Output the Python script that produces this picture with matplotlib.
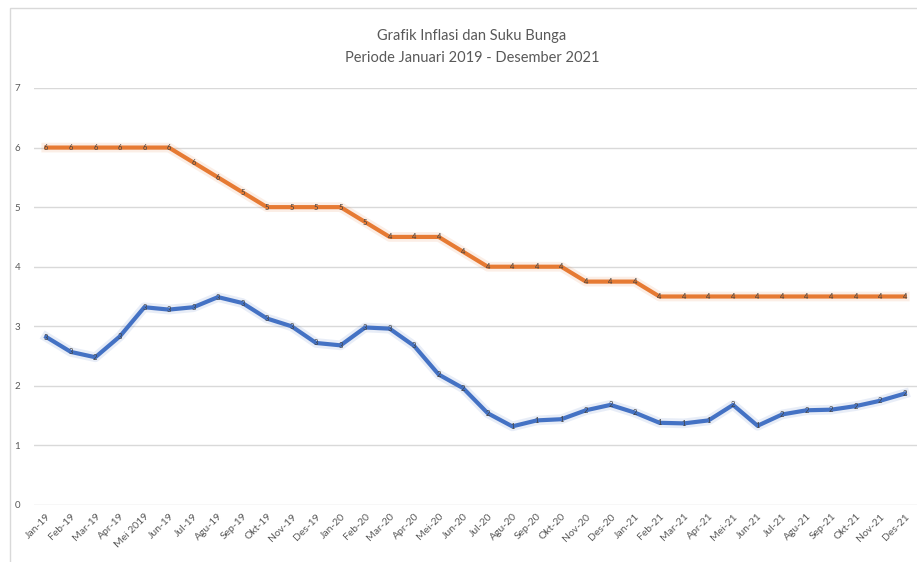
import matplotlib

matplotlib.use("Agg")
import matplotlib.pyplot as plt
from matplotlib.patches import Rectangle

bulan = [
    "Jan-19", "Feb-19", "Mar-19", "Apr-19", "Mei 2019", "Jun-19", "Jul-19", "Agu-19",
    "Sep-19", "Okt-19", "Nov-19", "Des-19", "Jan-20", "Feb-20", "Mar-20", "Apr-20",
    "Mei-20", "Jun-20", "Jul-20", "Agu-20", "Sep-20", "Okt-20", "Nov-20", "Des-20",
    "Jan-21", "Feb-21", "Mar-21", "Apr-21", "Mei-21", "Jun-21", "Jul-21", "Agu-21",
    "Sep-21", "Okt-21", "Nov-21", "Des-21",
]
inflasi = [
    2.82, 2.57, 2.48, 2.83, 3.32, 3.28, 3.32, 3.49, 3.39, 3.13, 3.00, 2.72,
    2.68, 2.98, 2.96, 2.67, 2.19, 1.96, 1.54, 1.32, 1.42, 1.44, 1.59, 1.68,
    1.55, 1.38, 1.37, 1.42, 1.68, 1.33, 1.52, 1.59, 1.60, 1.66, 1.75, 1.87,
]
suku_bunga = [
    6.00, 6.00, 6.00, 6.00, 6.00, 6.00, 5.75, 5.50, 5.25, 5.00, 5.00, 5.00,
    5.00, 4.75, 4.50, 4.50, 4.50, 4.25, 4.00, 4.00, 4.00, 4.00, 3.75, 3.75,
    3.75, 3.50, 3.50, 3.50, 3.50, 3.50, 3.50, 3.50, 3.50, 3.50, 3.50, 3.50,
]
y_ticks = [0, 1, 2, 3, 4, 5, 6, 7]

FONT = ["Lato", "DejaVu Sans"]
GRID = "#d9d9d9"
TEXT = "#595959"
ORANGE = "#E67A33"
BLUE = "#4472C4"

plt.rcParams["font.family"] = FONT

W, H = 917, 562
fig = plt.figure(figsize=(W / 100, H / 100), dpi=100)
fig.patch.set_facecolor("white")

# chart-area frame
fig.patches.append(Rectangle((10 / W, -0.01), 1.0, 1 - 8 / H + 0.01,
                             transform=fig.transFigure, fill=False,
                             edgecolor=GRID, linewidth=1.0))

ax = fig.add_axes([34 / W, (H - 505) / H, (W - 34) / W, (505 - 88) / H])
x = list(range(len(bulan)))

for series, color in ((suku_bunga, ORANGE), (inflasi, BLUE)):
    # soft halo under each line
    ax.plot(x, series, color=color, linewidth=7, alpha=0.12,
            solid_joinstyle="round", zorder=2)
    ax.plot(x, series, color=color, linewidth=3.0,
            solid_joinstyle="round", zorder=3)
    for xi, v in zip(x, series):
        ax.text(xi, v, f"{v:.0f}", ha="center", va="center", fontsize=5.5,
                color="#404040", zorder=4)

ax.set_xlim(-0.5, len(bulan) - 0.5)
ax.set_ylim(0, 7)
ax.set_yticks(y_ticks)
ax.set_xticks(x)
ax.set_xticklabels(bulan, rotation=45, ha="right", rotation_mode="anchor")
ax.tick_params(axis="both", length=0, labelsize=7.5, labelcolor=TEXT)
ax.tick_params(axis="y", pad=10, labelsize=7)
ax.tick_params(axis="x", pad=5)
ax.grid(axis="y", color=GRID, linewidth=1.0)
ax.set_axisbelow(True)
for side in ("top", "right", "left", "bottom"):
    ax.spines[side].set_visible(False)

fig.text(472 / W, 1 - 36 / H, "Grafik Inflasi dan Suku Bunga", ha="center",
         va="center", fontsize=10.5, color=TEXT)
fig.text(472 / W, 1 - 58 / H, "Periode Januari 2019 - Desember 2021", ha="center",
         va="center", fontsize=10.5, color=TEXT)

fig.savefig("out.png", dpi=100, facecolor="white")
